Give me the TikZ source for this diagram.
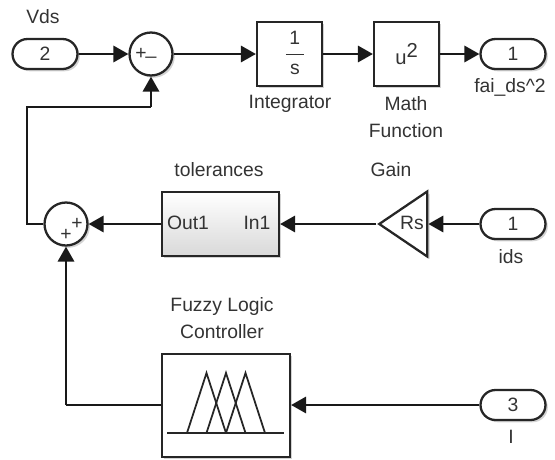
\documentclass[tikz,border=0pt]{standalone}
\usepackage{fontspec}
\setmainfont{Liberation Sans}
\usetikzlibrary{arrows.meta, shapes.geometric, shapes.misc, shadows}

\begin{document}
\begin{tikzpicture}[
    x=0.02cm, y=-0.02cm,
    every node/.style={font=\fontsize{11}{15.8}\selectfont, text=black!80},
    softshadow/.style={drop shadow={opacity=0.35, shadow xshift=1.3pt, shadow yshift=-1.3pt}},
    blockbox/.style={draw=black!85, rectangle, fill=white, line width=1.3pt, inner sep=0pt, softshadow},
    portbox/.style={draw=black!85, rounded rectangle, fill=white, line width=1.3pt, inner sep=0pt, minimum width=1.3cm, minimum height=0.6cm, softshadow},
    sumblock/.style={draw=black!85, circle, fill=white, line width=1.3pt, inner sep=0pt, minimum size=0.86cm, softshadow},
    gainbox/.style={draw=black!85, isosceles triangle, isosceles triangle stretches, shape border rotate=180, fill=white, line width=1.3pt, inner sep=0pt, minimum width=1.3cm, minimum height=0.96cm, softshadow},
    signal/.style={-{Triangle[length=0.3cm, width=0.33cm]}, draw=black!90, line width=1pt},
    wire/.style={draw=black!90, line width=1pt}
]

    \useasboundingbox (0, 0) rectangle (555, 460);

    % --------------------------------------------------------
    % 1. DEFINE BLOCKS
    % --------------------------------------------------------

    % Inports and outport
    \node (vdsport) [portbox] at (45, 54) {2};
    \node (idsport) [portbox] at (513, 224) {1};
    \node (iport) [portbox] at (513, 405) {3};
    \node (faiport) [portbox] at (513, 54) {1};

    % Sum blocks
    \node (topsum) [sumblock] at (151, 54) {};
    \node (bottomsum) [sumblock] at (66, 224) {};
    \node (topplus) at (141, 54) {+};
    \node (topminus) at (151, 56) {\_};
    \node (rightplus) at (77, 224) {+};
    \node (lowerplus) at (66, 235) {+};

    % Integrator
    \node (integrator) [blockbox, minimum width=1.3cm, minimum height=1.28cm] at (289.5, 54) {
        \renewcommand{\arraystretch}{1.05}
        \setlength{\tabcolsep}{2pt}
        \begin{tabular}{c}
        1 \\ \hline
        s
        \end{tabular}
    };

    % Math Function
    \node (mathfn) [blockbox, minimum width=1.3cm, minimum height=1.28cm] at (406.5, 54) {
        \fontsize{11.5}{12}\selectfont u\raisebox{0.7ex}{2}
    };

    % Gain
    \node (gain) [gainbox] at (410, 224) {};
    \node (gainvalue) at (412, 223) {Rs};

    % tolerances subsystem
    \node (tolerances) [blockbox, top color=white, bottom color=black!15, minimum width=2.34cm, minimum height=1.28cm] at (220.5, 224) {};
    \node (outlabel) at (188, 223) {Out1};
    \node (inlabel) at (257, 223) {In1};

    % Fuzzy Logic Controller
    \node (fuzzy) [blockbox, minimum width=2.56cm, minimum height=2.06cm] at (226, 405.5) {};
    \draw [black!85, line width=1pt] (167, 433) -- (284, 433);
    \foreach \footx in {187, 206.5, 226} {
        \draw [black!85, line width=1pt] (\footx, 433) -- (\footx+19.5, 373) -- (\footx+39, 433);
    }

    % --------------------------------------------------------
    % 2. DEFINE LABELS
    % --------------------------------------------------------

    \node (vdslabel) at (43, 17) {Vds};
    \node (integratorlabel) at (290, 104) {Integrator};
    \node (mathlabel) at (406, 104) {Math};
    \node (functionlabel) at (406, 131) {Function};
    \node (failabel) at (510, 87) {fai\_ds\^{}2};
    \node (tolerancelabel) at (219, 170) {tolerances};
    \node (gainlabel) at (391, 170) {Gain};
    \node (fuzzylabel) at (222, 318) [align=center] {Fuzzy Logic\\Controller};
    \node (idslabel) at (511, 257) {ids};
    \node (ilabel) at (511, 437) {I};

    % --------------------------------------------------------
    % 3. DEFINE CONNECTIONS
    % --------------------------------------------------------

    \coordinate (leftcorner) at (27, 224);
    \coordinate (uppercorner) at (27, 107);
    \coordinate (sumcorner) at (151, 107);
    \coordinate (fuzzycorner) at (66, 405);

    % Forward path
    \draw [signal] (vdsport) -- (topsum);
    \draw [signal] (topsum) -- (integrator);
    \draw [signal] (integrator) -- (mathfn);
    \draw [signal] (mathfn) -- (faiport);

    % Feedback through the gain
    \draw [signal] (idsport) -- (gain);
    \draw [signal] (gain) -- (tolerances);
    \draw [signal] (tolerances) -- (bottomsum);

    % Fuzzy path
    \draw [signal] (iport) -- (fuzzy.east |- iport);
    \draw [wire] (fuzzy.west |- fuzzycorner) -- (fuzzycorner);
    \draw [signal] (fuzzycorner) -- (bottomsum);

    % Sum back to the first sum
    \draw [wire] (bottomsum) -- (leftcorner) -- (uppercorner) -- (sumcorner);
    \draw [signal] (sumcorner) -- (topsum);

\end{tikzpicture}
\end{document}
